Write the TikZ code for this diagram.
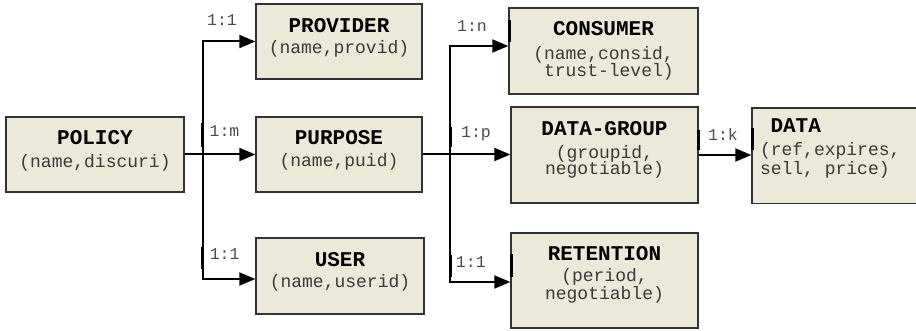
\documentclass[tikz,border=0pt]{standalone}
\usepackage{fontspec}
\setmonofont{Liberation Mono}
\usetikzlibrary{arrows.meta,calc}
\definecolor{boxfill}{HTML}{ECE9D8}
\definecolor{boxline}{HTML}{333333}
\definecolor{attrcol}{HTML}{3A3A3A}
\definecolor{cardcol}{HTML}{4A4A4A}

\begin{document}
\begin{tikzpicture}[x=1pt,y=-1pt,
  entity/.style={draw=boxline, line width=1.4pt, fill=boxfill, inner sep=0pt},
  entname/.style={font=\ttfamily\bfseries\fontsize{21}{21}\selectfont, inner sep=0pt, anchor=base},
  attrline/.style={font=\ttfamily\fontsize{18}{18}\selectfont, text=attrcol, inner sep=0pt, anchor=base},
  cardlabel/.style={font=\ttfamily\fontsize{16.5}{16.5}\selectfont, text=cardcol, inner sep=0pt, anchor=base},
  conn/.style={line width=2pt, -{Triangle[length=16pt,width=13pt]}},
  edgemark/.style={line width=3pt}
]
\useasboundingbox (0,0) rectangle (916,331);

% entity boxes
\node[entity, minimum width=178pt, minimum height=75pt] (policy)    at (95,154.5)   {};
\node[entity, minimum width=166pt, minimum height=75pt] (provider)  at (339,41.5)   {};
\node[entity, minimum width=166pt, minimum height=75pt] (purpose)   at (339,154.5)  {};
\node[entity, minimum width=168pt, minimum height=76pt] (user)      at (340,276)    {};
\node[entity, minimum width=189pt, minimum height=86pt] (consumer)  at (603.5,51)   {};
\node[entity, minimum width=187pt, minimum height=96pt] (datagroup) at (604.5,155)  {};
\node[entity, minimum width=187pt, minimum height=95pt] (retention) at (604.5,280.5){};
\node[entity, minimum width=168pt, minimum height=95.5pt] (data)    at (836,155.75) {};

% entity names and attributes
\node[entname]  (policyN)    at ($(policy.north)+(0,28.5)$)    {POLICY};
\node[attrline] (policyA)    at ($(policy.north)+(0,51)$)      {(name,discuri)};
\node[entname]  (providerN)  at ($(provider.north)+(0,29)$)    {PROVIDER};
\node[attrline] (providerA)  at ($(provider.north)+(0,50)$)    {(name,provid)};
\node[entname]  (purposeN)   at ($(purpose.north)+(0,28.5)$)   {PURPOSE};
\node[attrline] (purposeA)   at ($(purpose.north)+(0,50.5)$)   {(name,puid)};
\node[entname]  (userN)      at ($(user.north)+(0,28.7)$)      {USER};
\node[attrline] (userA)      at ($(user.north)+(0,50.3)$)      {(name,userid)};
\node[entname]  (consumerN)  at ($(consumer.north)+(0,28)$)    {CONSUMER};
\node[attrline] (consumerA)  at ($(consumer.north)+(0,52.5)$)  {(name,consid,};
\node[attrline] (consumerB)  at ($(consumer.north)+(0,69.3)$)  {\phantom{t}trust-level)};
\node[entname]  (datagroupN) at ($(datagroup.north)+(0,29)$)   {DATA-GROUP};
\node[attrline] (datagroupA) at ($(datagroup.north)+(0,52.3)$) {(groupid,};
\node[attrline] (datagroupB) at ($(datagroup.north)+(0,68.5)$) {negotiable)};
\node[entname]  (retentionN) at ($(retention.north)+(0,28.7)$) {RETENTION};
\node[attrline] (retentionA) at ($(retention.north)+(0,49.7)$) {(period,};
\node[attrline] (retentionB) at ($(retention.north)+(0,67)$)   {negotiable)};
\node[entname, anchor=base west]  (dataN) at ($(data.north west)+(19,25.3)$) {DATA};
\node[attrline, anchor=base west] (dataA) at ($(data.north west)+(8.5,48.7)$) {(ref,expires,};
\node[attrline, anchor=base west] (dataB) at ($(data.north west)+(8.5,67)$)   {sell, price)};

% branch points of the connector trunks
\coordinate (trunkL) at (203,154.5);
\coordinate (trunkR) at (450,155);

% connectors
\draw[conn] (policy.east) -- (purpose.west);
\draw[conn] (trunkL) |- (provider.west);
\draw[conn] (trunkL) |- ([yshift=-3pt]user.west);
\draw[line width=2pt] (purpose.east) -- (purpose.east -| trunkR);
\draw[conn] (purpose.east -| trunkR) -- (datagroup.west |- purpose.east);
\draw[conn] (trunkR) |- ([yshift=5pt]consumer.west);
\draw[conn] (trunkR) |- ([yshift=-1.5pt]retention.west);
\draw[conn] (datagroup.east) -- (data.west |- datagroup.east);

% cardinalities
\node[cardlabel] (cProvider)  at (222,26)      {1:1};
\node[cardlabel] (cPurpose)   at (224.5,136.5) {1:m};
\node[cardlabel] (cUser)      at (224.7,260)   {1:1};
\node[cardlabel] (cConsumer)  at (472,31.7)    {1:n};
\node[cardlabel] (cGroup)     at (476,137.5)   {1:p};
\node[cardlabel] (cData)      at (723,140.5)   {1:k};
\node[cardlabel] (cRetention) at (470.8,267.3) {1:1};

% side borders of the cardinality frames
\draw[edgemark] (202.5,123) -- (202.5,147);
\draw[edgemark] (202.5,247) -- (202.5,269);
\draw[edgemark] (450,127) -- (450,147);
\draw[edgemark] (450,255) -- (450,277);
\draw[edgemark] (509,20) -- (509,42);
\draw[edgemark] (698,130) -- (698,150);
\draw[edgemark] (752,128) -- (752,150);
\draw[edgemark] (511,254) -- (511,277);
\end{tikzpicture}
\end{document}
